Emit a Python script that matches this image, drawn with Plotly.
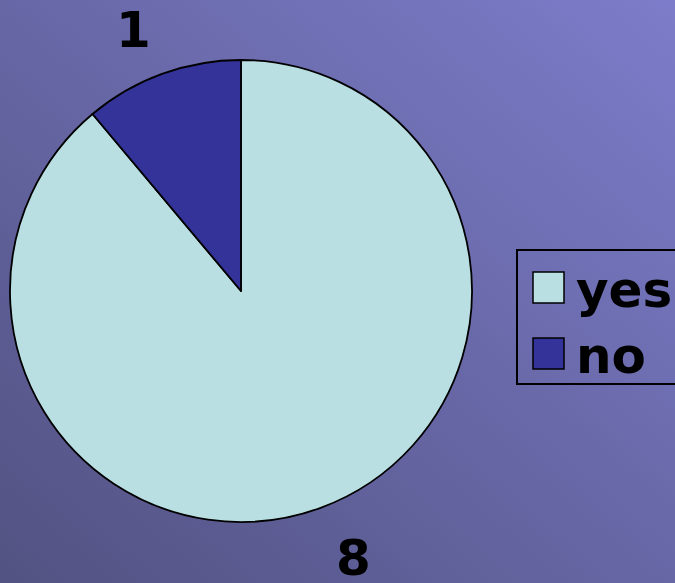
import base64
import plotly.graph_objects as go

# ---- data ----
labels = ["yes", "no"]
values = [8, 1]

# ---- style ----
colors = ["#b9dfe2", "#333399"]
W, H = 675, 583

def px(x):
    return x / W

def py(y):
    return 1 - y / H

svg = f'''<svg xmlns="http://www.w3.org/2000/svg" width="{W}" height="{H}" viewBox="0 0 {W} {H}" preserveAspectRatio="none">
<defs><linearGradient id="g" x1="0" y1="1" x2="1" y2="0">
<stop offset="0" stop-color="#525282"/><stop offset="1" stop-color="#7c7cca"/>
</linearGradient></defs><rect width="{W}" height="{H}" fill="url(#g)"/></svg>'''
bg = "data:image/svg+xml;base64," + base64.b64encode(svg.encode()).decode()

fig = go.Figure(go.Pie(
    labels=labels,
    values=values,
    sort=False,
    direction="clockwise",
    rotation=0,
    textinfo="none",
    hoverinfo="label+value",
    marker=dict(colors=colors, line=dict(color="#000000", width=1.8)),
    domain=dict(x=[px(10), px(472)], y=[py(522), py(60)]),
    showlegend=False,
))

font_main = dict(family="DejaVu Sans, Verdana, sans-serif", size=50, color="#000000", weight="bold")

# value labels
label_pos = [(353, 558), (133, 30)]
annotations = []
for v, (x, y) in zip(values, label_pos):
    annotations.append(dict(x=px(x), y=py(y), xref="paper", yref="paper", text=str(v),
                            showarrow=False, font=font_main, xanchor="center", yanchor="middle"))

# custom legend
shapes = [dict(type="rect", xref="paper", yref="paper", x0=px(517), x1=px(690), y0=py(384), y1=py(250),
               line=dict(color="#000000", width=2), fillcolor="rgba(0,0,0,0)", layer="above")]
sw = [(272, 303), (338, 369)]
txt_y = [290, 356]
for lab, c, (y0, y1), ty in zip(labels, colors, sw, txt_y):
    shapes.append(dict(type="rect", xref="paper", yref="paper", x0=px(533), x1=px(564), y0=py(y1), y1=py(y0),
                       line=dict(color="#000000", width=1.5), fillcolor=c, layer="above"))
    annotations.append(dict(x=px(574), y=py(ty), xref="paper", yref="paper", text=lab,
                            showarrow=False, font=font_main, xanchor="left", yanchor="middle"))

fig.update_layout(
    width=W, height=H,
    margin=dict(l=0, r=0, t=0, b=0),
    paper_bgcolor="#6666a6",
    plot_bgcolor="rgba(0,0,0,0)",
    images=[dict(source=bg, xref="paper", yref="paper", x=0, y=1, sizex=1, sizey=1,
                 sizing="stretch", layer="below", xanchor="left", yanchor="top")],
    annotations=annotations,
    shapes=shapes,
)

fig.write_html("out.html",
               config={"displayModeBar": False},
               post_script="document.body.style.margin='0';document.body.style.overflow='hidden';")
